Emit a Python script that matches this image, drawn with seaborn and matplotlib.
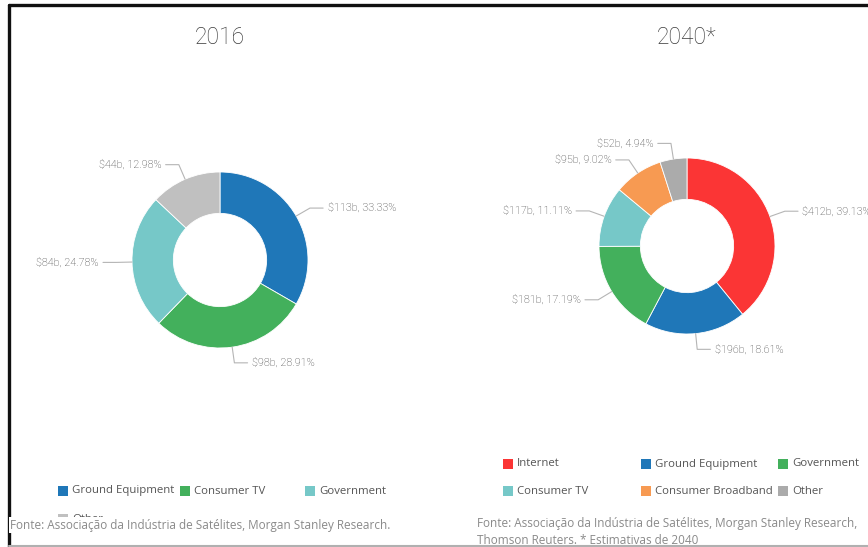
import numpy as np
import pandas as pd
import seaborn as sns
import matplotlib
matplotlib.use("Agg")
import matplotlib.pyplot as plt
from matplotlib.lines import Line2D
from matplotlib.patches import Rectangle

# ---------------- data ----------------
title_2016 = "2016"
cats_2016 = ["Ground Equipment", "Consumer TV", "Government", "Other"]
vals_2016 = [113, 98, 84, 44]
cols_2016 = ["#1f77b8", "#43b05c", "#76c8c8", "#c0c0c0"]

title_2040 = "2040*"
cats_2040 = ["Internet", "Ground Equipment", "Government", "Consumer TV",
             "Consumer Broadband", "Other"]
vals_2040 = [412, 196, 181, 117, 95, 52]
cols_2040 = ["#fb3535", "#1f77b8", "#43b05c", "#76c8c8", "#f79a52", "#ababab"]

source_2016 = "Fonte: Associação da Indústria de Satélites, Morgan Stanley Research."
source_2040 = ("Fonte: Associação da Indústria de Satélites, Morgan Stanley Research,\n"
               "Thomson Reuters. * Estimativas de 2040")

# ---------------- style ----------------
sns.set_theme(style="white")
plt.rcParams["font.family"] = ["Roboto", "DejaVu Sans"]

W, H = 868, 547
fig = plt.figure(figsize=(W / 100, H / 100), dpi=100)
fig.patch.set_facecolor("white")


def fx(x):
    return x / W


def fy(y):
    return 1 - y / H


R_PX = 88  # outer radius in pixels


def donut(cx, cy, cats, vals, cols, title):
    half = 160
    ax = fig.add_axes([fx(cx - half), fy(cy + half), 2 * half / W, 2 * half / H])
    df = pd.DataFrame({"cat": cats, "val": vals})
    total = df["val"].sum()
    df["pct"] = df["val"] / total * 100
    ax.pie(df["val"], colors=cols, startangle=90, counterclock=False, radius=1.0,
           wedgeprops=dict(width=0.47, edgecolor="white", linewidth=0.6))
    lim = half / R_PX
    ax.set_aspect("auto")
    ax.set_xlim(-lim, lim)
    ax.set_ylim(-lim, lim)
    ax.axis("off")
    cum = df["val"].cumsum() - df["val"] / 2
    for (_, row), c in zip(df.iterrows(), cum):
        ang = np.deg2rad(90 - 360 * c / total)
        ca, sa = np.cos(ang), np.sin(ang)
        sign = 1 if ca >= 0 else -1
        p0 = (ca * 1.0, sa * 1.0)
        p1 = (ca * 1.18, sa * 1.18)
        p2 = (p1[0] + sign * 0.15, p1[1])
        ax.plot([p0[0], p1[0], p2[0]], [p0[1], p1[1], p2[1]],
                color="#b5b5b5", lw=0.8, clip_on=False)
        ax.text(p2[0] + sign * 0.05, p2[1], f"${row['val']}b, {row['pct']:.2f}%",
                ha="left" if sign > 0 else "right", va="center",
                fontsize=7.8, color="#3a3a3a", fontweight="light", clip_on=False)
    fig.text(fx(cx), fy(38), title, ha="center", va="center", fontsize=16.5,
             color="#3a3a3a", fontweight="light")
    return ax


donut(220, 260, cats_2016, vals_2016, cols_2016, title_2016)
donut(687, 246, cats_2040, vals_2040, cols_2040, title_2040)


# ---------------- legends (drawn manually on a grid) ----------------
def legend(cats, cols, xs, ys):
    for i, (c, col) in enumerate(zip(cats, cols)):
        x = xs[i % len(xs)]
        y = ys[i // len(xs)]
        fig.patches.append(Rectangle((fx(x - 5), fy(y + 5)), 10 / W, 10 / H,
                                     transform=fig.transFigure, facecolor=col,
                                     edgecolor="none", zorder=2))
        fig.text(fx(x + 9), fy(y), c, ha="left", va="center", fontsize=8.2,
                 color="#555555", family=["Open Sans", "DejaVu Sans"], zorder=2)


legend(cats_2016, cols_2016, [63, 185, 310], [491, 519])
legend(cats_2040, cols_2040, [508, 646, 783], [464, 491])

fig.text(fx(10), fy(525), source_2016, ha="left", va="center", fontsize=8.45,
         color="#8a8a8a", family=["Open Sans", "DejaVu Sans"], zorder=5,
         bbox=dict(facecolor="white", edgecolor="none", pad=0.8))
fig.text(fx(477), fy(532), source_2040, ha="left", va="center", fontsize=8.45,
         color="#8a8a8a", family=["Open Sans", "DejaVu Sans"], linespacing=1.4,
         zorder=5)

# ---------------- frame ----------------
fig.add_artist(Line2D([fx(9), 1], [fy(5), fy(5)], transform=fig.transFigure,
                      color="#111111", lw=2.4))
fig.add_artist(Line2D([fx(9), fx(9)], [fy(5), 0], transform=fig.transFigure,
                      color="#111111", lw=2.4))
fig.add_artist(Line2D([fx(9), 1], [fy(545.5), fy(545.5)], transform=fig.transFigure,
                      color="#b0b0b0", lw=1.5))

fig.savefig("out.png", dpi=100, facecolor="white")
